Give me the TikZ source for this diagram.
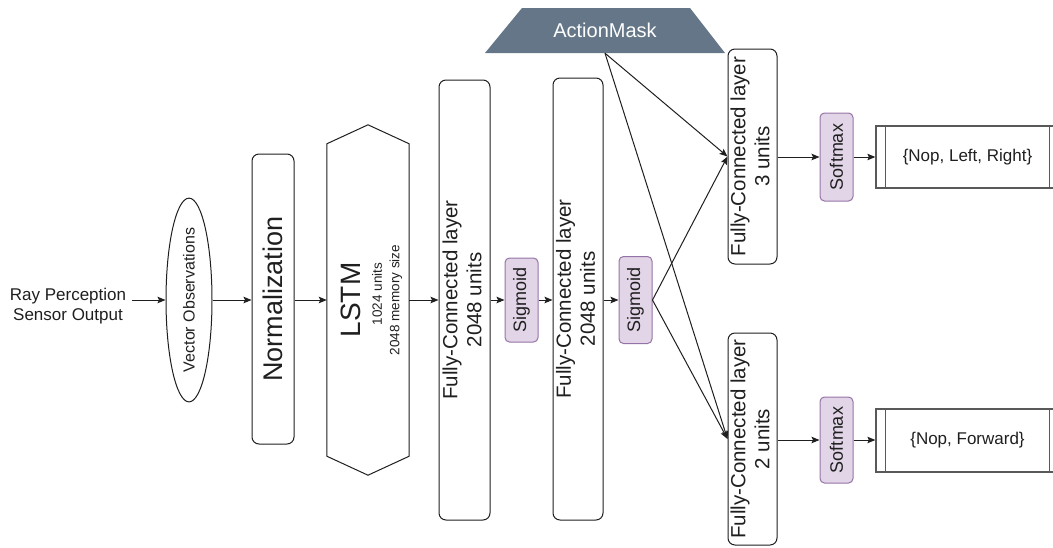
\documentclass[tikz,border=0pt]{standalone}
\usepackage{fontspec}
\usepackage{graphicx}
\setmainfont{Liberation Sans}
\usetikzlibrary{arrows.meta,shapes.geometric}

\definecolor{actfill}{HTML}{E1D5E7}
\definecolor{actline}{HTML}{9673A6}
\definecolor{maskfill}{HTML}{647687}
\definecolor{ink}{HTML}{1F1F1F}

% vertical (rotated) multi-line label
\newcommand{\vlabel}[1]{\rotatebox{90}{\begin{tabular}{@{}c@{}}#1\end{tabular}}}

\begin{document}
\begin{tikzpicture}[
  x=1pt, y=-1pt,
  font=\fontsize{17}{20}\selectfont,
  text=ink,
  layer/.style={draw=ink, line width=1pt, rounded corners=7pt, inner sep=0pt},
  fclabel/.style={font=\fontsize{20.5}{24}\selectfont},
  act/.style={draw=actline, fill=actfill, line width=1pt, rounded corners=4.5pt,
    inner sep=0pt, minimum width=33pt, font=\fontsize{18}{20}\selectfont},
  outbox/.style={draw=black!65, line width=1.3pt, inner sep=0pt,
    minimum width=183pt},
  link/.style={draw=ink, line width=1pt, -{Stealth[length=8pt,width=6.5pt,inset=1.5pt]}},
]
\useasboundingbox (0,0) rectangle (1053,547);

% input
\node[align=center, inner sep=6pt] (ray) at (68,306)
  {Ray Perception\\Sensor Output};
\node[ellipse, draw=ink, line width=1pt, minimum width=46pt, minimum height=195pt,
  inner sep=0pt, font=\fontsize{16}{18}\selectfont] (vo) at (189,300)
  {\rotatebox{90}{Vector Observations}};

% normalization
\node[layer, minimum width=42pt, minimum height=290pt,
  font=\fontsize{27}{30}\selectfont] (norm) at (273,299)
  {\rotatebox{90}{Normalization}};

% LSTM hexagon
\node[minimum width=82pt, minimum height=350pt, inner sep=0pt] (lstm) at (368,300) {};
\draw[draw=ink, line width=1pt] (lstm.north) -- ([yshift=-19pt]lstm.north east)
  -- ([yshift=19pt]lstm.south east) -- (lstm.south)
  -- ([yshift=19pt]lstm.south west) -- ([yshift=-19pt]lstm.north west) -- cycle;
\node[rotate=90, inner sep=0pt, font=\fontsize{28}{30}\selectfont] (lstmname) at (351,300) {LSTM};
\node[rotate=90, inner sep=0pt, font=\fontsize{13.5}{16}\selectfont] (lstmunits) at (377,294) {1024 units};
\node[rotate=90, inner sep=0pt, font=\fontsize{13.5}{16}\selectfont] (lstmmem) at (396,300) {2048 memory size};

% dense layers
\node[layer, fclabel, minimum width=51pt, minimum height=440pt] (fc1) at (464.5,300)
  {\vlabel{Fully-Connected layer\\2048 units}};
\node[act, minimum height=84pt] (sig1) at (521.5,300) {\rotatebox{90}{Sigmoid}};
\node[layer, fclabel, minimum width=50pt, minimum height=442pt] (fc2) at (578,299)
  {\vlabel{Fully-Connected layer\\2048 units}};
\node[act, minimum height=87pt] (sig2) at (635.5,300) {\rotatebox{90}{Sigmoid}};

% action mask
\fill[maskfill] (485,53) -- (725,53) -- (690,8) -- (522,8) -- cycle;
\node[minimum width=240pt, minimum height=45pt, inner sep=0pt, text=white,
  font=\fontsize{20}{22}\selectfont] (am) at (605,30.5) {ActionMask};

% output heads
\node[layer, fclabel, minimum width=49pt, minimum height=215pt] (fc3) at (752.5,156.5)
  {\vlabel{Fully-Connected layer\\3 units}};
\node[layer, fclabel, minimum width=49pt, minimum height=212pt] (fc4) at (752.5,439)
  {\vlabel{Fully-Connected layer\\2 units}};
\node[act, minimum height=88pt] (sm1) at (836.5,157) {\rotatebox{90}{Softmax}};
\node[act, minimum height=86pt] (sm2) at (836.5,440) {\rotatebox{90}{Softmax}};

\node[outbox, minimum height=62pt] (out1) at (967.5,157) {\{Nop, Left, Right\}};
\node[outbox, minimum height=63pt] (out2) at (967.5,440.5) {\{Nop, Forward\}};
\foreach \o in {out1,out2}{
  \draw[draw=black!65, line width=1.3pt] ([xshift=10pt]\o.north west) -- ([xshift=10pt]\o.south west);
  \draw[draw=black!65, line width=1.3pt] ([xshift=-10pt]\o.north east) -- ([xshift=-10pt]\o.south east);
}

% connectors
\draw[link] (ray.east |- vo.west) -- (vo.west);
\draw[link] (vo.east) -- (vo.east -| norm.west);
\draw[link] (vo.east -| norm.east) -- (lstm.west);
\draw[link] (lstm.east) -- (fc1.west);
\draw[link] (fc1.east) -- (sig1.west);
\draw[link] (sig1.east) -- (sig1.east -| fc2.west);
\draw[link] (sig1.east -| fc2.east) -- (sig2.west);
\draw[link] (sig2.east) -- (fc3.west);
\draw[link] (sig2.east) -- (fc4.west);
\draw[link] (am.south) -- (fc3.west);
\draw[link] (am.south) -- (fc4.west);
\draw[link] (sm1.west -| fc3.east) -- (sm1.west);
\draw[link] (sm1.east) -- (out1.west |- sm1.east);
\draw[link] (sm2.west -| fc4.east) -- (sm2.west);
\draw[link] (sm2.east) -- (out2.west |- sm2.east);
\end{tikzpicture}
\end{document}
